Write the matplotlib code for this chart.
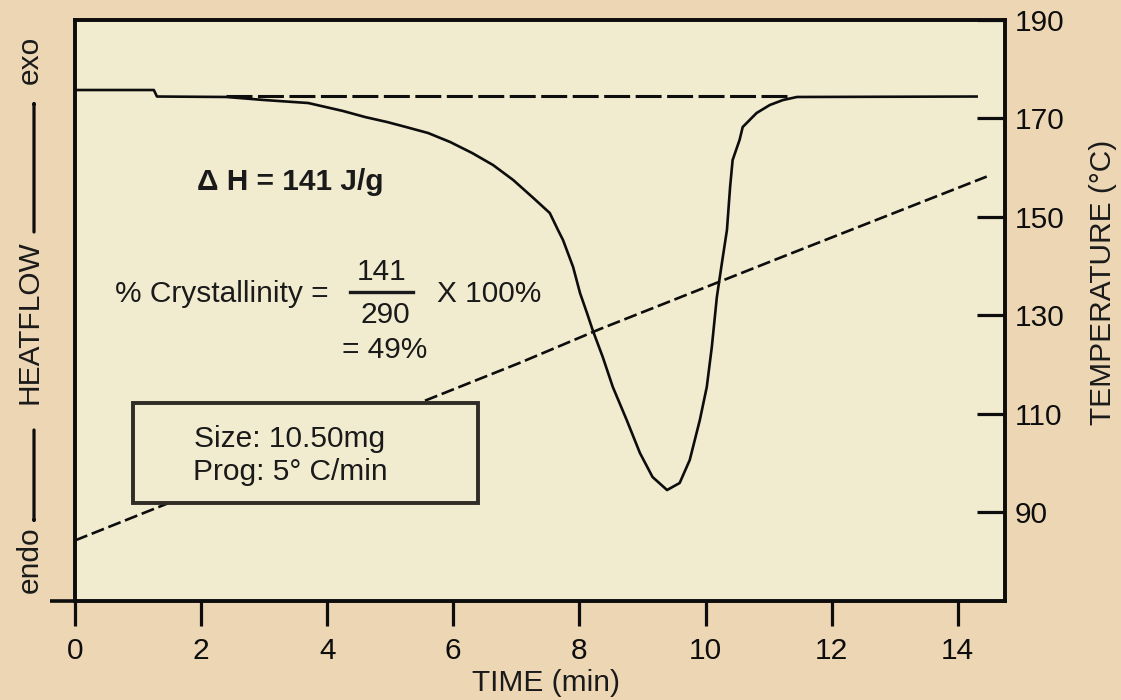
import numpy as np
import matplotlib
matplotlib.use('Agg')
import matplotlib.pyplot as plt
from matplotlib.patches import Rectangle

plt.rcParams['font.family'] = ['Liberation Sans', 'DejaVu Sans']

# DSC heat flow trace (arbitrary units: 0 = bottom of frame, 100 = top)
time_hf = [0.0, 1.25, 1.3, 2.4, 3.0, 3.7, 4.25, 4.6, 4.95, 5.25, 5.6, 5.95,
           6.3, 6.63, 6.95, 7.27, 7.53, 7.66, 7.74, 7.9, 8.01, 8.12, 8.21,
           8.37, 8.53, 8.75, 8.96, 9.16, 9.39, 9.59, 9.75, 9.91, 10.02, 10.1,
           10.18, 10.26, 10.34, 10.39, 10.43, 10.54, 10.59, 10.81, 11.02,
           11.23, 11.45, 14.3]
heatflow = [87.95, 87.95, 86.83, 86.75, 86.23, 85.71, 84.34, 83.3, 82.44,
            81.58, 80.55, 79.0, 77.1, 75.04, 72.46, 69.36, 66.78, 63.86,
            62.13, 57.49, 53.0, 49.57, 46.64, 42.0, 36.83, 31.15, 25.47,
            21.34, 19.1, 20.31, 24.27, 31.15, 36.83, 43.72, 52.32, 58.17,
            63.86, 71.26, 75.9, 79.35, 81.58, 83.99, 85.37, 86.23, 86.75,
            86.83]

# baseline drawn under the melting peak
time_base = [2.4, 11.3]
base_val = [86.9, 86.9]

# sample temperature (deg C)
time_temp = [0.0, 7.06, 8.32, 11.18, 14.46]
temperature = [84.3, 120.4, 127.2, 141.7, 158.2]

x_ticks = [0, 2, 4, 6, 8, 10, 12, 14]
t_ticks = [90, 110, 130, 150, 170, 190]

W, H = 1121, 700
fig = plt.figure(figsize=(W / 100, H / 100), dpi=100)
fig.patch.set_facecolor('#ECD6B4')


def fx(px):
    return px / W


def fy(py):
    return 1 - py / H


ax = fig.add_axes([fx(75), fy(601), fx(1005) - fx(75), fy(20) - fy(601)])
ax.set_facecolor('#F1EBCF')
ink = '#0d0d0d'
txt = '#1a1a1a'
fs = 21.5

ax.plot(time_hf, heatflow, color=ink, lw=1.9, zorder=3,
        solid_joinstyle='round')
ax.plot(time_base, base_val, color=ink, lw=2.2, dashes=(8.5, 1.8), zorder=3)
ax.set_xlim(0, 14.75)
ax.set_ylim(0, 100)
ax.set_yticks([])
ax.set_xticks(x_ticks)
ax.tick_params(axis='x', direction='out', length=18, width=2.3, pad=8,
               labelsize=fs, colors=ink)
for s in ax.spines.values():
    s.set_linewidth(2.6)
    s.set_color(ink)
# bottom line runs a little past the left frame
ax.plot([-25 / 930, 0], [0, 0], transform=ax.transAxes, clip_on=False,
        color=ink, lw=2.6, solid_capstyle='butt')

ax2 = ax.twinx()
ax2.plot(time_temp, temperature, color=ink, lw=1.9, dashes=(5, 1.8), zorder=2)
ax2.set_ylim(72, 190)
ax2.set_yticks(t_ticks)
ax2.tick_params(axis='y', direction='in', length=20, width=2.3, pad=7,
                labelsize=fs, colors=ink)
for s in ax2.spines.values():
    s.set_linewidth(2.6)
    s.set_color(ink)

# sample info box
ax2.add_patch(Rectangle(((133 - 75) / 930, (601 - 503) / 581),
                        (478 - 133) / 930, (503 - 403) / 581,
                        transform=ax2.transAxes, facecolor='#F1EBCF',
                        edgecolor='#302c26', lw=2.8, zorder=5))
fig.text(fx(290), fy(447), 'Size: 10.50mg', ha='center', va='baseline',
         fontsize=fs, color=txt, zorder=6)
fig.text(fx(290), fy(480), 'Prog: 5° C/min', ha='center', va='baseline',
         fontsize=fs, color=txt, zorder=6)

# annotations
fig.text(fx(197), fy(190), 'Δ H = 141 J/g', ha='left', va='baseline',
         fontsize=fs, fontweight='bold', color=txt)
fig.text(fx(115), fy(302), '% Crystallinity =', ha='left', va='baseline',
         fontsize=fs, color=txt)
fig.text(fx(382), fy(280), '141', ha='center', va='baseline',
         fontsize=fs, color=txt)
fig.add_artist(plt.Line2D([fx(350), fx(413)], [fy(292), fy(292)],
                          color=txt, lw=2.4))
fig.text(fx(385), fy(323), '290', ha='center', va='baseline',
         fontsize=fs, color=txt)
fig.text(fx(437), fy(302), 'X 100%', ha='left', va='baseline',
         fontsize=fs, color=txt)
fig.text(fx(342), fy(358), '= 49%', ha='left', va='baseline',
         fontsize=fs, color=txt)

# axis titles
fig.text(fx(546), fy(683), 'TIME (min)', ha='center', va='center',
         fontsize=fs, color=txt)
fig.text(fx(1103), fy(282), 'TEMPERATURE (°C)', ha='center', va='center',
         rotation=90, fontsize=fs, color=txt)

# left heat flow direction marker
fig.text(fx(30), fy(60), 'exo', ha='center', va='center', rotation=90,
         fontsize=fs, color=txt)
fig.text(fx(30), fy(322), 'HEATFLOW', ha='center', va='center', rotation=90,
         fontsize=fs, color=txt)
fig.text(fx(30), fy(560), 'endo', ha='center', va='center', rotation=90,
         fontsize=fs, color=txt)
arrow = dict(arrowstyle='-|>,head_length=0.6,head_width=0.3', color=ink,
             lw=2.3, shrinkA=0, shrinkB=0)
fig.add_artist(matplotlib.patches.FancyArrowPatch(
    (fx(34), fy(232)), (fx(34), fy(100)), transform=fig.transFigure,
    **arrow))
fig.add_artist(matplotlib.patches.FancyArrowPatch(
    (fx(34), fy(430)), (fx(34), fy(524)), transform=fig.transFigure,
    **arrow))

fig.savefig('out.png', dpi=100, facecolor=fig.get_facecolor())
